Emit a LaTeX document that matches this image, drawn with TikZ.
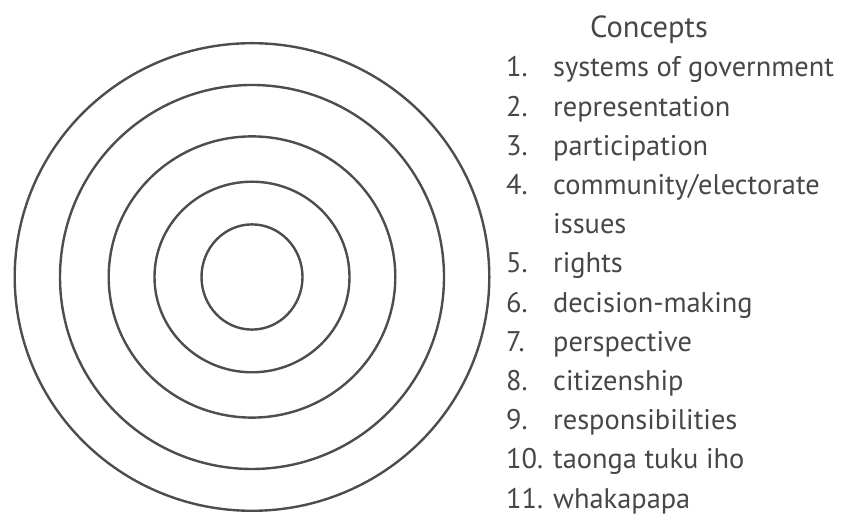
\documentclass[tikz,border=0pt]{standalone}
\usepackage{fontspec}
\setmainfont{PT Sans}
\definecolor{ringgray}{HTML}{4D4D4D}
\definecolor{textgray}{HTML}{474747}
\tikzset{
  ring/.style={draw=ringgray, line width=2.4pt},
  numlbl/.style={anchor=base west, inner sep=0pt, text=textgray, font=\fontsize{28.4}{32}\selectfont},
  itemlbl/.style={anchor=base west, inner sep=0pt, text=textgray, font=\fontsize{28.4}{32}\selectfont},
  titlelbl/.style={anchor=base, inner sep=0pt, text=textgray, font=\fontsize{30.5}{34}\selectfont},
}
\begin{document}
\begin{tikzpicture}[x=1pt,y=1pt]
\useasboundingbox (0,0) rectangle (843,526);
\coordinate (c) at (252,249);
\draw[ring] (c) ellipse [x radius=237.3, y radius=233.8];
\draw[ring] (c) ellipse [x radius=192, y radius=192];
\draw[ring] (c) ellipse [x radius=143.3, y radius=140.6];
\draw[ring] (c) ellipse [x radius=97.5, y radius=95.3];
\draw[ring] (c) ellipse [x radius=50.5, y radius=52.6];
\node[titlelbl] (title) at (649,488) {Concepts};
\foreach \n/\t/\i in {1./systems of government/0, 2./representation/1, 3./participation/2, 4./community\slash electorate/3, 5./rights/5, 6./decision-making/6, 7./perspective/7, 8./citizenship/8, 9./responsibilities/9, 10./taonga tuku iho/10, 11./whakapapa/11}{
  \node[numlbl] (n\i) at (506,{449-39.2*\i}) {\n};
  \node[itemlbl] (t\i) at (553,{449-39.2*\i}) {\t};
}
\node[itemlbl] (t4) at (553,{449-39.2*4}) {issues};
\end{tikzpicture}
\end{document}
